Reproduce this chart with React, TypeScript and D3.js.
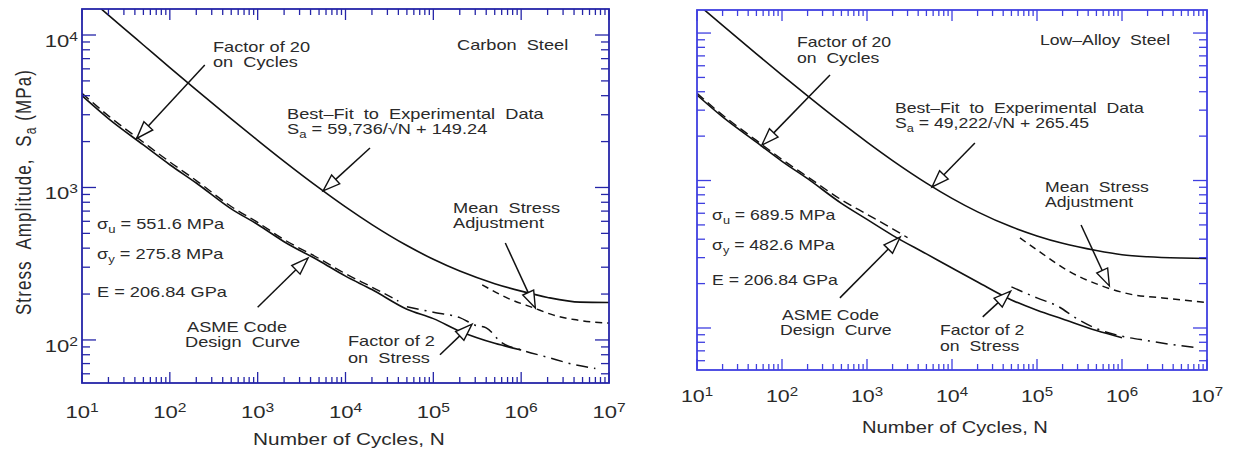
import React from 'react';
import * as d3 from 'd3';

const W = 1234;
const H = 452;

// ---------- Carbon steel (left panel) ----------
const csBestN = [15, 20, 30, 50, 100, 200, 500, 1e3, 2e3, 5e3, 1e4, 2e4, 5e4, 1e5, 2e5, 5e5, 1e6, 2e6, 4.7e6, 1e7];
const csBestS = [15570, 13500, 11050, 8600, 6120, 4370, 2820, 2040, 1485, 994, 746, 571, 416, 338, 283, 234, 209, 190, 177, 176];
const csMeanN = [3.6e5, 7e5, 1.4e6, 2.3e6, 4e6, 1e7];
const csMeanS = [230, 188, 162, 146, 136, 129];
const csDesignN = [10, 20, 50, 100, 200, 500, 1e3, 2e3, 5e3, 1e4, 2e4, 5e4, 1e5, 2e5, 5e5, 1e6];
const csDesignS = [4000, 2830, 1900, 1410, 1070, 724, 572, 441, 331, 262, 214, 159, 138, 114, 95, 86];
const csF20N = [10, 20, 50, 100, 200, 500, 1e3, 2e3, 5e3, 1e4, 2e4, 4e4];
const csF20S = [4150, 2950, 1980, 1470, 1110, 750, 590, 455, 342, 272, 222, 180];
const csF2N = [5e4, 1e5, 2e5, 3e5, 4e5, 6e5, 1e6, 2e6, 4e6, 7e6];
const csF2S = [165, 152, 140, 125, 120, 96, 86, 77, 69, 65];
const csArrowTail: [number, number][] = [[250, 6350], [1.9e4, 1815], [1000, 164], [1.19e5, 80], [6.6e5, 432]];
const csArrowTip: [number, number][] = [[42, 2100], [5560, 950], [3750, 345], [2.76e5, 127], [1.45e6, 162]];

// ---------- Low-alloy steel (right panel) ----------
const laBestN = [12, 20, 50, 100, 200, 500, 1e3, 2e3, 5e3, 1e4, 2e4, 5e4, 1e5, 2e5, 5e5, 1e6, 2e6, 5e6, 1e7];
const laBestS = [14475, 11270, 7226, 5187, 3746, 2466, 1822, 1366, 961, 757, 613, 485, 421, 375, 335, 314, 304, 298, 296];
const laMeanN = [6.3e4, 1.08e5, 2.24e5, 5.5e5, 1.35e6, 3e6, 1e7];
const laMeanS = [408, 328, 247, 195, 168, 160, 149];
const laDesignN = [10, 20, 50, 100, 200, 500, 1e3, 2e3, 5e3, 1e4, 2e4, 5e4, 1e5, 2e5, 5e5, 1e6];
const laDesignS = [3800, 2700, 1820, 1350, 1030, 700, 545, 425, 318, 255, 205, 155, 132, 115, 96, 86];
const laF20N = [10, 20, 50, 100, 200, 500, 1e3, 2e3, 3e3];
const laF20S = [3900, 2780, 1870, 1390, 1060, 740, 590, 470, 410];
const laF2N = [5e4, 1e5, 1.7e5, 3e5, 5e5, 1e6, 2e6, 4e6, 7e6];
const laF2S = [190, 160, 142, 115, 99, 88, 82, 77, 74];
const laArrowTail: [number, number][] = [[367, 5190], [1.86e4, 1795], [480, 160], [2.3e4, 119], [3.3e5, 499]];
const laArrowTip: [number, number][] = [[58, 1740], [5820, 904], [2460, 414], [4.9e4, 178], [7.1e5, 193]];

const xTickExps = [1, 2, 3, 4, 5, 6, 7];
const yTickExps = [2, 3, 4];

const FONT = "'Liberation Sans', Arial, Helvetica, sans-serif";
const TXT = '#2a2a2a';

type Series = { N: number[]; S: number[]; dash?: string; w?: number };
type Lab = { x: number; y: number; parts: (string | [string, 'sub'])[] };

type PanelCfg = {
  id: string;
  x0: number; x1: number; y0: number; y1: number;
  yDom: [number, number];
  axis: string;
  sx: number;
  xLabelY: number;
  showY: boolean;
  xTitle: [number, number];
  series: Series[];
  tails: [number, number][];
  tips: [number, number][];
  labels: Lab[];
};

const sub = (s: string): [string, 'sub'] => [s, 'sub'];

const leftLabels: Lab[] = [
  { x: 457, y: 50, parts: ['Carbon  Steel'] },
  { x: 213, y: 52, parts: ['Factor of 20'] },
  { x: 213, y: 67, parts: ['on  Cycles'] },
  { x: 287, y: 119, parts: ['Best–Fit  to  Experimental  Data'] },
  { x: 287, y: 134, parts: ['S', sub('a'), ' = 59,736/√N + 149.24'] },
  { x: 453, y: 213, parts: ['Mean  Stress'] },
  { x: 453, y: 228, parts: ['Adjustment'] },
  { x: 97, y: 229, parts: ['σ', sub('u'), ' = 551.6 MPa'] },
  { x: 97, y: 259, parts: ['σ', sub('y'), ' = 275.8 MPa'] },
  { x: 97, y: 297, parts: ['E = 206.84 GPa'] },
  { x: 187, y: 332, parts: ['ASME Code'] },
  { x: 185, y: 347, parts: ['Design  Curve'] },
  { x: 348, y: 346, parts: ['Factor of 2'] },
  { x: 348, y: 363, parts: ['on  Stress'] },
];

const rightLabels: Lab[] = [
  { x: 1040, y: 45, parts: ['Low–Alloy  Steel'] },
  { x: 797, y: 47, parts: ['Factor of 20'] },
  { x: 797, y: 63, parts: ['on  Cycles'] },
  { x: 895, y: 113, parts: ['Best–Fit  to  Experimental  Data'] },
  { x: 895, y: 128, parts: ['S', sub('a'), ' = 49,222/√N + 265.45'] },
  { x: 1045, y: 192, parts: ['Mean  Stress'] },
  { x: 1045, y: 207, parts: ['Adjustment'] },
  { x: 712, y: 220, parts: ['σ', sub('u'), ' = 689.5 MPa'] },
  { x: 712, y: 250, parts: ['σ', sub('y'), ' = 482.6 MPa'] },
  { x: 712, y: 285, parts: ['E = 206.84 GPa'] },
  { x: 782, y: 320, parts: ['ASME Code'] },
  { x: 780, y: 335, parts: ['Design  Curve'] },
  { x: 940, y: 335, parts: ['Factor of 2'] },
  { x: 940, y: 351, parts: ['on  Stress'] },
];

const DASH_MEAN = '7,5';
const DASH_F20 = '9,5';
const DASH_F2 = '12,6,2,6';

const panels: PanelCfg[] = [
  {
    id: 'cs', x0: 82, x1: 609, y0: 9, y1: 383, yDom: [52.2, 14810], axis: '#2525a8', sx: 1.3,
    xLabelY: 418, showY: true, xTitle: [349, 445],
    series: [
      { N: csBestN, S: csBestS, w: 1.6 },
      { N: csMeanN, S: csMeanS, dash: DASH_MEAN, w: 1.5 },
      { N: csF20N, S: csF20S, dash: DASH_F20, w: 1.4 },
      { N: csF2N, S: csF2S, dash: DASH_F2, w: 1.5 },
      { N: csDesignN, S: csDesignS, w: 1.6 },
    ],
    tails: csArrowTail, tips: csArrowTip, labels: leftLabels,
  },
  {
    id: 'la', x0: 697, x1: 1207, y0: 10, y1: 370, yDom: [51.9, 14330], axis: '#3f3fe0', sx: 1.26,
    xLabelY: 402, showY: false, xTitle: [955, 433],
    series: [
      { N: laBestN, S: laBestS, w: 1.6 },
      { N: laMeanN, S: laMeanS, dash: DASH_MEAN, w: 1.5 },
      { N: laF20N, S: laF20S, dash: DASH_F20, w: 1.4 },
      { N: laF2N, S: laF2S, dash: DASH_F2, w: 1.5 },
      { N: laDesignN, S: laDesignS, w: 1.6 },
    ],
    tails: laArrowTail, tips: laArrowTip, labels: rightLabels,
  },
];

function logTicks(lo: number, hi: number) {
  const out: { v: number; major: boolean }[] = [];
  for (let e = Math.floor(Math.log10(lo)); e <= Math.ceil(Math.log10(hi)); e++) {
    for (let k = 1; k <= 9; k++) {
      const v = k * Math.pow(10, e);
      if (v >= lo * 0.999 && v <= hi * 1.001) out.push({ v, major: k === 1 });
    }
  }
  return out;
}

function Txt({ x, y, sx, size = 14, anchor = 'start', parts }: { x: number; y: number; sx: number; size?: number; anchor?: string; parts: (string | [string, 'sub'])[] }) {
  return (
    <text
      transform={`translate(${x},${y}) scale(${sx},1)`}
      fontSize={size}
      fontFamily={FONT}
      fill={TXT}
      textAnchor={anchor as any}
      style={{ whiteSpace: 'pre' }}
    >
      {parts.map((p, i) => {
        if (typeof p === 'string') {
          const prevSub = i > 0 && typeof parts[i - 1] !== 'string';
          return <tspan key={i} dy={prevSub ? -4 : 0}>{p}</tspan>;
        }
        return <tspan key={i} dy={4} fontSize={size * 0.72}>{p[0]}</tspan>;
      })}
    </text>
  );
}

function Arrow({ tail, tip }: { tail: [number, number]; tip: [number, number] }) {
  const dx = tip[0] - tail[0];
  const dy = tip[1] - tail[1];
  const len = Math.hypot(dx, dy);
  const ux = dx / len, uy = dy / len;
  const L = 17, hw = 6;
  const bx = tip[0] - ux * L, by = tip[1] - uy * L;
  const nx = -uy, ny = ux;
  const pts = [
    [tip[0], tip[1]],
    [bx + nx * hw, by + ny * hw],
    [bx - nx * hw, by - ny * hw],
  ];
  return (
    <g>
      <line x1={tail[0]} y1={tail[1]} x2={bx} y2={by} stroke="#111" strokeWidth={1.5} />
      <polygon points={pts.map((p) => p.join(',')).join(' ')} fill="#fff" stroke="#111" strokeWidth={1.4} strokeLinejoin="miter" />
    </g>
  );
}

function Panel({ cfg }: { cfg: PanelCfg }) {
  const x = d3.scaleLog().domain([10, 1e7]).range([cfg.x0, cfg.x1]);
  const y = d3.scaleLog().domain(cfg.yDom).range([cfg.y1, cfg.y0]);
  const line = d3
    .line<[number, number]>()
    .x((d) => x(d[0]))
    .y((d) => y(d[1]))
    .curve(d3.curveMonotoneX);
  const xt = logTicks(10, 1e7);
  const yt = logTicks(cfg.yDom[0], cfg.yDom[1]);
  const XMAJ = 11, XMIN = 6, YMAJ = 14, YMIN = 8;
  const clipId = `clip-${cfg.id}`;
  return (
    <g>
      <defs>
        <clipPath id={clipId}>
          <rect x={cfg.x0} y={cfg.y0} width={cfg.x1 - cfg.x0} height={cfg.y1 - cfg.y0} />
        </clipPath>
      </defs>
      <g clipPath={`url(#${clipId})`}>
        {cfg.series.map((s, i) => (
          <path
            key={i}
            d={line(s.N.map((n, j) => [n, s.S[j]] as [number, number])) || ''}
            fill="none"
            stroke="#111"
            strokeWidth={s.w || 1.5}
            strokeDasharray={s.dash}
          />
        ))}
      </g>
      {cfg.tails.map((t, i) => (
        <Arrow
          key={i}
          tail={[x(t[0]), y(t[1])]}
          tip={[x(cfg.tips[i][0]), y(cfg.tips[i][1])]}
        />
      ))}
      {/* ticks */}
      <g stroke={cfg.axis} strokeWidth={1.3}>
        {xt.map((t, i) => {
          const px = x(t.v);
          const l = t.major ? XMAJ : XMIN;
          return (
            <g key={'x' + i}>
              <line x1={px} x2={px} y1={cfg.y1} y2={cfg.y1 - l} />
              <line x1={px} x2={px} y1={cfg.y0} y2={cfg.y0 + l} />
            </g>
          );
        })}
        {yt.map((t, i) => {
          const py = y(t.v);
          const l = t.major ? YMAJ : YMIN;
          return (
            <g key={'y' + i}>
              <line x1={cfg.x0} x2={cfg.x0 + l} y1={py} y2={py} />
              <line x1={cfg.x1} x2={cfg.x1 - l} y1={py} y2={py} />
            </g>
          );
        })}
      </g>
      <rect
        x={cfg.x0}
        y={cfg.y0}
        width={cfg.x1 - cfg.x0}
        height={cfg.y1 - cfg.y0}
        fill="none"
        stroke={cfg.axis}
        strokeWidth={1.8}
      />
      {/* x tick labels */}
      {xTickExps.map((e) => (
        <text
          key={'xl' + e}
          transform={`translate(${x(Math.pow(10, e))},${cfg.xLabelY}) scale(${cfg.sx},1)`}
          fontSize={17}
          fontFamily={FONT}
          fill={TXT}
          textAnchor="middle"
        >
          10<tspan dy={-6} fontSize={12}>{e}</tspan>
        </text>
      ))}
      {cfg.showY &&
        yTickExps.map((e) => (
          <text
            key={'yl' + e}
            transform={`translate(${cfg.x0 - 4},${y(Math.pow(10, e)) + 12}) scale(${cfg.sx},1)`}
            fontSize={17}
            fontFamily={FONT}
            fill={TXT}
            textAnchor="end"
          >
            10<tspan dy={-6} fontSize={12}>{e}</tspan>
          </text>
        ))}
      <Txt x={cfg.xTitle[0]} y={cfg.xTitle[1]} sx={cfg.sx} size={16} anchor="middle" parts={['Number of Cycles, N']} />
      {cfg.showY && (
        <text
          transform={`translate(31,192) scale(${cfg.sx},1) rotate(-90)`}
          fontSize={17}
          fontFamily={FONT}
          fill={TXT}
          textAnchor="middle"
          letterSpacing={1.1}
          style={{ whiteSpace: 'pre' }}
        >
          Stress  Amplitude,  S<tspan dy={4} fontSize={12}>a</tspan><tspan dy={-4}> (MPa)</tspan>
        </text>
      )}
      {cfg.labels.map((lb, i) => (
        <Txt key={'lb' + i} x={lb.x} y={lb.y} sx={cfg.sx} size={14} parts={lb.parts} />
      ))}
    </g>
  );
}

export default function App() {
  return (
    <svg
      width={W}
      height={H}
      viewBox={`0 0 ${W} ${H}`}
      style={{ position: 'absolute', left: 0, top: 0, background: '#fff' }}
    >
      <rect x={0} y={0} width={W} height={H} fill="#fff" />
      {panels.map((p) => (
        <Panel key={p.id} cfg={p} />
      ))}
    </svg>
  );
}
